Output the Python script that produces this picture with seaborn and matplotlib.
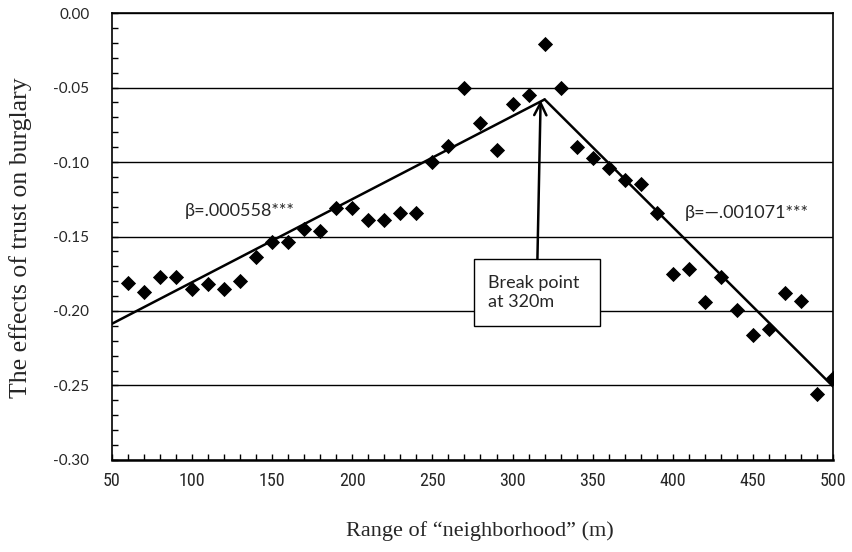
import matplotlib
matplotlib.use("Agg")
import matplotlib.pyplot as plt
from matplotlib import font_manager
from matplotlib.patches import Rectangle
from matplotlib.ticker import MultipleLocator
import numpy as np
import pandas as pd
import seaborn as sns

# Neighbourhood radius (m) and estimated effect of trust on burglary
ranges = [60, 70, 80, 90, 100, 110, 120, 130, 140, 150,
          160, 170, 180, 190, 200, 210, 220, 230, 240, 250,
          260, 270, 280, 290, 300, 310, 320, 330, 340, 350,
          360, 370, 380, 390, 400, 410, 420, 430, 440, 450,
          460, 470, 480, 490, 500]
effects = [-0.181, -0.187, -0.177, -0.177, -0.185, -0.182, -0.185, -0.180, -0.164, -0.154,
           -0.154, -0.145, -0.146, -0.131, -0.131, -0.139, -0.139, -0.134, -0.134, -0.100,
           -0.089, -0.050, -0.074, -0.092, -0.061, -0.055, -0.021, -0.050, -0.090, -0.097,
           -0.104, -0.112, -0.115, -0.134, -0.175, -0.172, -0.194, -0.177, -0.199, -0.216,
           -0.212, -0.188, -0.193, -0.256, -0.245]

# Piecewise regression: break point and the two slopes
break_x = 320
break_y = -0.058
slope_left = 0.000558
slope_right = -0.001071
slope_labels = ["β=.000558***", "β=\u2014.001071***"]
break_label = "Break point\nat 320m"

y_ticks = [0.00, -0.05, -0.10, -0.15, -0.20, -0.25, -0.30]
x_ticks = [50, 100, 150, 200, 250, 300, 350, 400, 450, 500]


def first_font(candidates):
    names = {f.name for f in font_manager.fontManager.ttflist}
    for c in candidates:
        if c in names:
            return c
    return "DejaVu Sans"


sans = first_font(["Lato", "Open Sans", "Noto Sans"])
narrow = first_font(["Liberation Sans Narrow", "Roboto Condensed", "DejaVu Sans"])
serif = first_font(["Liberation Serif", "DejaVu Serif"])

sns.set_theme(style="white")
plt.rcParams["font.family"] = [sans, "DejaVu Sans"]

df = pd.DataFrame({"range": ranges, "effect": effects})

seg_left = pd.DataFrame({"range": [50, break_x]})
seg_left["effect"] = break_y + slope_left * (seg_left["range"] - break_x)
seg_right = pd.DataFrame({"range": [break_x, 500]})
seg_right["effect"] = break_y + slope_right * (seg_right["range"] - break_x)

fig = plt.figure(figsize=(8.52, 5.52), dpi=100)
ax = fig.add_axes([0.1311, 0.1667, 0.8469, 0.8097])

for y in y_ticks:
    ax.axhline(y, color="black", lw=1.0, zorder=1)

sns.lineplot(data=seg_left, x="range", y="effect", color="black", lw=1.8, ax=ax, zorder=3)
sns.lineplot(data=seg_right, x="range", y="effect", color="black", lw=1.8, ax=ax, zorder=3)
sns.scatterplot(data=df, x="range", y="effect", marker="D", s=60, color="black",
                edgecolor="black", linewidth=0, ax=ax, zorder=4)

ax.set_xlim(50, 500)
ax.set_ylim(-0.30, 0.0)
ax.set_xticks(x_ticks)
ax.set_yticks(y_ticks)
ax.set_xticklabels([str(v) for v in x_ticks], fontfamily=narrow, fontsize=13)
ax.set_yticklabels([f"{v:.2f}" if v != 0 else "0.00" for v in y_ticks], fontsize=11)
ax.xaxis.set_minor_locator(MultipleLocator(10))
ax.yaxis.set_minor_locator(MultipleLocator(0.01))
ax.tick_params(axis="both", which="both", direction="in", length=4, width=1,
               color="black", left=True, bottom=True)
ax.tick_params(axis="y", which="major", pad=16)
ax.tick_params(axis="x", which="major", pad=9)

for side in ["left", "right", "top", "bottom"]:
    ax.spines[side].set_visible(True)
    ax.spines[side].set_color("black")
    ax.spines[side].set_linewidth(1.2)
ax.spines["bottom"].set_linewidth(1.8)

ax.set_xlabel("Range of \u201cneighborhood\u201d (m)", fontfamily=serif, fontsize=16)
ax.xaxis.set_label_coords(0.5104, -0.137)
ax.set_ylabel("The effects of trust on burglary", fontfamily=serif, fontsize=18.5)
ax.yaxis.set_label_coords(-0.11, 0.497)

ax.text(95.7, -0.133, slope_labels[0], fontsize=13, ha="left", va="center", zorder=5)
ax.text(407.5, -0.134, slope_labels[1], fontsize=13, ha="left", va="center", zorder=5)

# Break point call-out box with arrow to the kink
ax.add_patch(Rectangle((276, -0.2101), 78.5, 0.045, facecolor="white",
                       edgecolor="black", lw=1.0, zorder=5))
ax.text(284.5, -0.1875, break_label, fontsize=13, ha="left", va="center",
        linespacing=1.2, zorder=6)
ax.annotate("", xy=(317.5, -0.0585), xytext=(315.5, -0.165),
            arrowprops=dict(arrowstyle="->", color="black", lw=1.8,
                            mutation_scale=22, shrinkA=0, shrinkB=0),
            zorder=6)

fig.savefig("out.png", dpi=100)
